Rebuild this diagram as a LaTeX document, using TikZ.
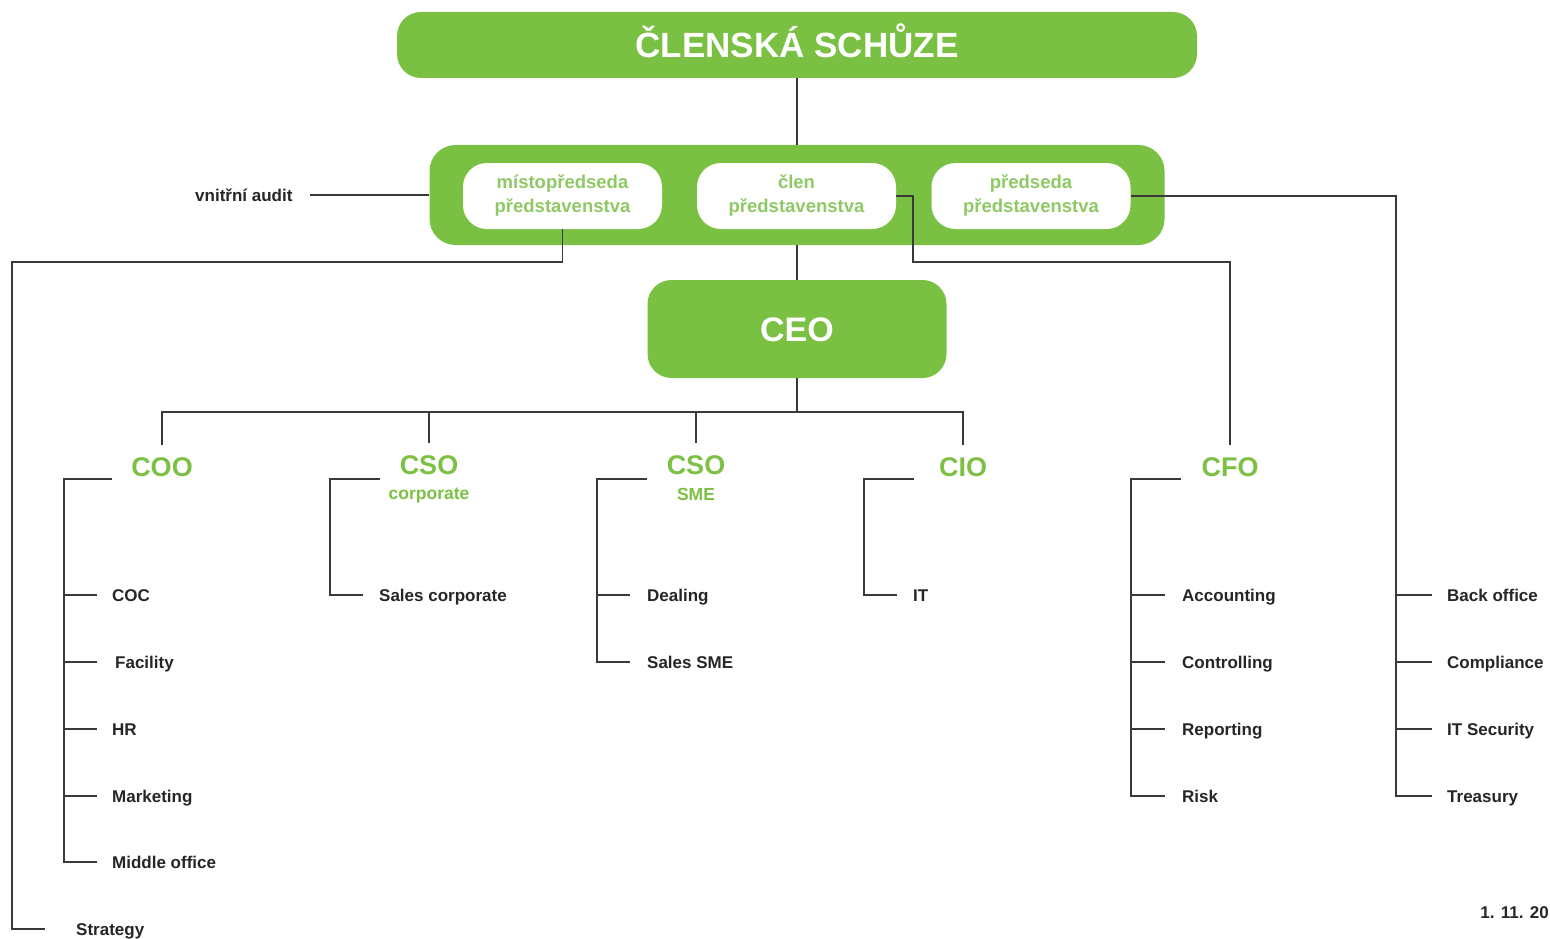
\documentclass[tikz,border=0pt]{standalone}
\usepackage{fontspec}
\setmainfont{Liberation Sans}
\definecolor{grn}{HTML}{7AC143}
\definecolor{grntxt}{HTML}{7CC144}
\definecolor{pilltxt}{HTML}{8FC965}
\definecolor{ln}{HTML}{3A3A3A}
\begin{document}
\begin{tikzpicture}[x=1pt,y=-1pt,
  bigbox/.style={fill=grn, rounded corners=24pt, text=white, font=\bfseries\fontsize{35}{40}\selectfont, text height=25pt, text depth=0pt, inner sep=0pt},
  board/.style={fill=grn, rounded corners=26pt, inner sep=0pt},
  pill/.style={fill=white, rounded corners=24pt, text=pilltxt, font=\bfseries\fontsize{18.5}{24}\selectfont, align=center, minimum width=199pt, minimum height=66pt, inner sep=0pt},
  head/.style={text=grntxt, font=\bfseries\fontsize{27}{30}\selectfont, text height=19.3pt, text depth=0pt, inner xsep=2pt, inner ysep=12.4pt},
  sub/.style={text=grntxt, font=\bfseries\fontsize{17.5}{20}\selectfont, inner sep=0pt},
  lbl/.style={anchor=west, font=\bfseries\fontsize{17}{20}\selectfont, text=black!85, text height=12.3pt, text depth=0pt, inner sep=0pt},
  conn/.style={draw=ln, line width=1.7pt}]
\useasboundingbox (0,0) rectangle (1550,939);
\fill[white] (0,0) rectangle (1550,939);

% top boxes
\node[bigbox, minimum width=800pt, minimum height=66pt] (top) at (797,45) {ČLENSKÁ SCHŮZE};
\node[board, minimum width=735pt, minimum height=100pt] (board) at (797,195) {};
\node[pill] (p1) at (562.5,196) {místopředseda\\představenstva};
\node[pill] (p2) at (796.5,196) {člen\\představenstva};
\node[pill] (p3) at (1031,196) {předseda\\představenstva};
\node[bigbox, font=\bfseries\fontsize{34}{40}\selectfont, text height=24.3pt, minimum width=299pt, minimum height=98pt] (ceo) at (797,329) {CEO};
\node[lbl] (audit) at (195,195) {vnitřní audit};

% heads
\node[head] (coo) at (162,467) {COO};
\node[head] (cso1) at (429,465) {CSO};
\node[sub] (cso1s) at (429,496) {corporate};
\node[head] (cso2) at (696,465) {CSO};
\node[sub] (cso2s) at (696,494) {SME};
\node[head] (cio) at (963,467) {CIO};
\node[head] (cfo) at (1230,467) {CFO};

% labels
\node[lbl] (coc) at (112,595) {COC};
\node[lbl] (fac) at (115,662) {Facility};
\node[lbl] (hr) at (112,729) {HR};
\node[lbl] (mkt) at (112,796) {Marketing};
\node[lbl] (mid) at (112,862) {Middle office};
\node[lbl] (strat) at (76,929) {Strategy};
\node[lbl] (salc) at (379,595) {Sales corporate};
\node[lbl] (deal) at (647,595) {Dealing};
\node[lbl] (sals) at (647,662) {Sales SME};
\node[lbl] (it) at (913,595) {IT};
\node[lbl] (acc) at (1182,595) {Accounting};
\node[lbl] (ctrl) at (1182,662) {Controlling};
\node[lbl] (rep) at (1182,729) {Reporting};
\node[lbl] (risk) at (1182,796) {Risk};
\node[lbl] (bo) at (1447,595) {Back office};
\node[lbl] (comp) at (1447,662) {Compliance};
\node[lbl] (its) at (1447,729) {IT Security};
\node[lbl] (treas) at (1447,796) {Treasury};
\node[lbl, anchor=east] (date) at (1549,912) {1. 11. 20};

% helper coordinates
\coordinate (bus) at (797,412);
\coordinate (mL) at (12,262);
\coordinate (cj) at (913,262);
\coordinate (cooT) at (112,479);
\coordinate (cs1T) at (380,479);
\coordinate (cs2T) at (647,479);
\coordinate (cioT) at (914,479);
\coordinate (cfoT) at (1181,479);
\coordinate (sp1) at (64,0);   \coordinate (tk1) at (97,0);
\coordinate (sp2) at (330,0);  \coordinate (tk2) at (363,0);
\coordinate (sp3) at (597,0);  \coordinate (tk3) at (630,0);
\coordinate (sp4) at (864,0);  \coordinate (tk4) at (897,0);
\coordinate (sp5) at (1131,0); \coordinate (tk5) at (1165,0);
\coordinate (sp6) at (1396,0); \coordinate (tk6) at (1432,0);

% connectors
\draw[conn] (top.south) -- (board.north);
\draw[conn] (board.south) -- (ceo.north);
\draw[conn] ([xshift=17pt]audit.east) -- (board.west);
\draw[conn] (p1.south) |- (mL) |- ([xshift=-31pt]strat.west);
\draw[conn] (p2.east) -| (cj) -| (cfo.north);
\draw[conn] (p3.east) -| (treas.west -| sp6) -- (treas.west -| tk6);
\foreach \n in {bo,comp,its} \draw[conn] (\n.west -| sp6) -- (\n.west -| tk6);

\draw[conn] (ceo.south) -- (bus);
\draw[conn] (coo.north) |- (cio.north |- bus) -- (cio.north);
\draw[conn] (cso1.north) -- (cso1.north |- bus);
\draw[conn] (cso2.north) -- (cso2.north |- bus);

\draw[conn] (cooT) -| (mid.west -| sp1) -- (mid.west -| tk1);
\foreach \n in {coc,fac,hr,mkt} \draw[conn] (\n.west -| sp1) -- (\n.west -| tk1);
\draw[conn] (cs1T) -| (salc.west -| sp2) -- (salc.west -| tk2);
\draw[conn] (cs2T) -| (sals.west -| sp3) -- (sals.west -| tk3);
\draw[conn] (deal.west -| sp3) -- (deal.west -| tk3);
\draw[conn] (cioT) -| (it.west -| sp4) -- (it.west -| tk4);
\draw[conn] (cfoT) -| (risk.west -| sp5) -- (risk.west -| tk5);
\foreach \n in {acc,ctrl,rep} \draw[conn] (\n.west -| sp5) -- (\n.west -| tk5);
\end{tikzpicture}
\end{document}
